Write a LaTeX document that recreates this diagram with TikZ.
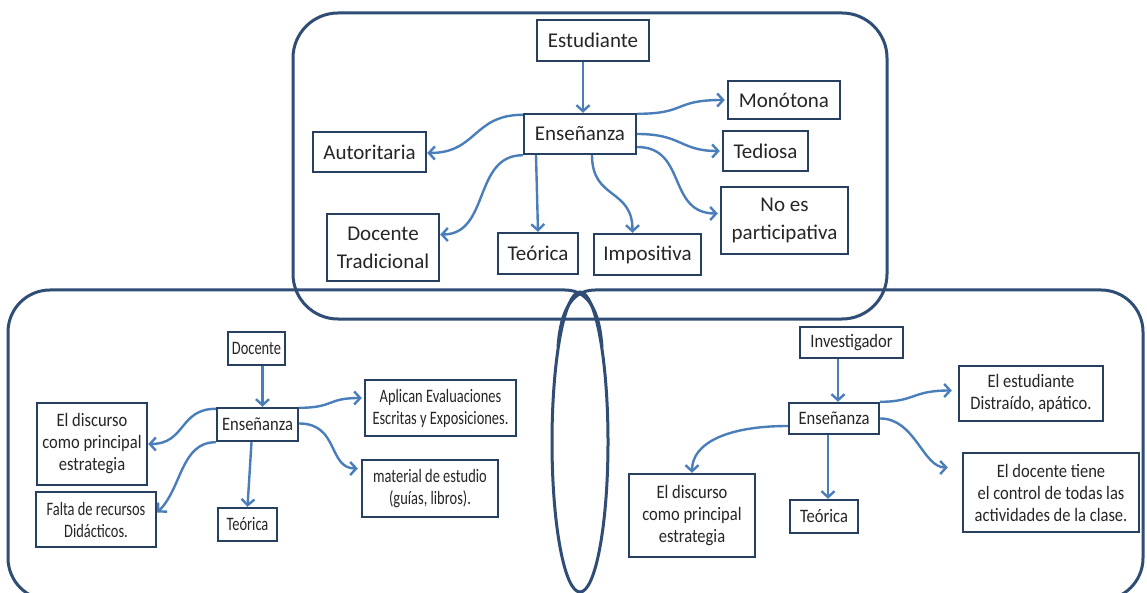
\documentclass[tikz,border=0pt]{standalone}
\usepackage{fontspec}
\setmainfont{Carlito}
\newfontfamily\nfont[FakeStretch=0.76]{Carlito}
\newfontfamily\wfont[FakeStretch=0.87]{Carlito}
\usetikzlibrary{arrows.meta}
\definecolor{contcol}{RGB}{47,77,117}
\definecolor{boxcol}{RGB}{40,64,96}
\definecolor{arrcol}{RGB}{74,126,187}
\tikzset{
  tbox/.style={draw=boxcol, line width=2.4pt, align=center, inner sep=0pt, text=black!85, font=\fontsize{21}{28}\selectfont},
  bbox/.style={draw=boxcol, line width=2.4pt, align=center, inner sep=0pt, text=black!85, font=\wfont\fontsize{19}{22}\selectfont},
  nbox/.style={bbox, font=\nfont\fontsize{19}{22}\selectfont},
  arr/.style={draw=arrcol, line width=2.4pt, -{Straight Barb[length=6pt,width=13pt]}},
  cont/.style={draw=contcol, line width=3pt},
}
\begin{document}
\begin{tikzpicture}[x=1pt,y=-1pt]
\useasboundingbox (0,0) rectangle (1147,593);
\clip (0,0) rectangle (1147,593);
\fill[white] (0,0) rectangle (1147,593);
% containers
\draw[cont, rounded corners=45pt] (293,13) rectangle (887,319);
\draw[cont] (602,347) .. controls (600,318) and (592,290) .. (565,290);
\draw[cont, rounded corners=42pt] (565,290) -- (8,290) -- (8,600) -- (620,600);
\draw[cont] (558,347) .. controls (560,318) and (568,290) .. (595,290);
\draw[cont, rounded corners=42pt] (595,290) -- (1143,290) -- (1143,600) -- (540,600);
\draw[cont] (580,442) ellipse [x radius=28pt, y radius=150pt];
% top nodes
\node[tbox, minimum width=112, minimum height=41] (est) at (593,40.5) {Estudiante};
\node[tbox, minimum width=112, minimum height=40] (ens1) at (580,134) {Enseñanza};
\node[tbox, minimum width=112, minimum height=38] (mon) at (784,100) {Monótona};
\node[tbox, minimum width=113, minimum height=40] (aut) at (369.5,152) {Autoritaria};
\node[tbox, minimum width=85, minimum height=40] (ted) at (765.5,151) {Tediosa};
\node[tbox, minimum width=127, minimum height=67] (noes) at (784.5,220.5) {No es\\participativa};
\node[tbox, minimum width=112, minimum height=67] (doct) at (383,247.5) {Docente\\Tradicional};
\node[tbox, minimum width=80, minimum height=41] (teo1) at (538,253.5) {Teórica};
\node[tbox, minimum width=107, minimum height=41] (imp) at (647.5,254.5) {Impositiva};
% bottom left nodes
\node[nbox, minimum width=57, minimum height=33] (doc) at (256.5,348.5) {Docente};
\node[bbox, minimum width=81, minimum height=33] (ens2) at (257.5,424.5) {Enseñanza};
\node[nbox, minimum width=151, minimum height=56] (apl) at (440.5,408) {Aplican Evaluaciones\\Escritas y Exposiciones.};
\node[nbox, minimum width=136, minimum height=57] (mat) at (430,488.5) {material de estudio\\(guías, libros).};
\node[bbox, minimum width=110, minimum height=82] (disc2) at (92,444) {El discurso\\como principal\\estrategia};
\node[nbox, minimum width=120, minimum height=55] (falta) at (96,519.5) {Falta de recursos\\Didácticos.};
\node[nbox, minimum width=59, minimum height=33] (teo2) at (247.5,524.5) {Teórica};
% bottom right nodes
\node[bbox, minimum width=103, minimum height=31] (inv) at (851.5,342.5) {Investigador};
\node[bbox, minimum width=90, minimum height=31] (ens3) at (834,418.5) {Enseñanza};
\node[bbox, minimum width=144, minimum height=55] (estd) at (1031,393.5) {El estudiante\\Distraído, apático.};
\node[bbox, minimum width=176, minimum height=79] (doctiene) at (1051,492.5) {El docente tiene\\el control de todas las\\actividades de la clase.};
\node[bbox, minimum width=126, minimum height=83] (disc3) at (692,515.5) {El discurso\\como principal\\estrategia};
\node[bbox, minimum width=68, minimum height=33] (teo3) at (824,516.5) {Teórica};
% top arrows
\draw[arr] ([xshift=3pt]ens1.north |- est.south) -- ([xshift=3pt]ens1.north);
\draw[arr] ([yshift=-1pt]ens1.north east) .. controls +(50,0) and +(-52,0) .. ([xshift=-2pt]mon.west);
\draw[arr] (ens1.east) .. controls +(45,0) and +(-40,0) .. ([xshift=-2pt]ted.west);
\draw[arr] ([yshift=-13pt]ens1.east) .. controls +(50,0) and +(-51,0) .. ([xshift=-2pt,yshift=7pt]noes.west);
\draw[arr] ([xshift=12pt]ens1.south) .. controls +(0,45) and +(0,-45) .. ([xshift=-15pt]imp.north);
\draw[arr] ([xshift=-44pt]ens1.south) -- (teo1.north);
\draw[arr] (ens1.south west) .. controls +(-50,0) and +(50,0) .. ([yshift=13pt]doct.east);
\draw[arr] ([yshift=-2pt]ens1.north west) .. controls +(-50,0) and +(50,0) .. ([yshift=-1pt]aut.east);
% bottom left arrows
\draw[arr] ([xshift=5pt]ens2.north |- doc.south) -- ([xshift=5pt]ens2.north);
\draw[arr] ([xshift=-6pt]ens2.south) -- (teo2.north);
\draw[arr] ([yshift=-2pt]ens2.north west) .. controls +(-37,0) and +(38,0) .. (disc2.east);
\draw[arr] (ens2.south west) .. controls +(-35,0) and +(25,-25) .. ([yshift=7pt]falta.east);
\draw[arr] ([yshift=-1pt]ens2.north east) .. controls +(35,0) and +(-35,0) .. ([xshift=-2pt,yshift=10pt]apl.west);
\draw[arr] ([yshift=1pt]ens2.east) .. controls +(40,0) and +(-30,0) .. ([xshift=-3pt,yshift=20pt]mat.west);
% bottom right arrows
\draw[arr] ([xshift=4pt]ens3.north |- inv.south) -- ([xshift=4pt]ens3.north);
\draw[arr] ([xshift=-6pt]ens3.south) -- ([xshift=-6pt]ens3.south |- teo3.north);
\draw[arr] ([yshift=-7.5pt]ens3.west) .. controls +(-60,0) and +(0,-30) .. (disc3.north);
\draw[arr] (ens3.north east) .. controls +(35,0) and +(-40,0) .. ([xshift=-6pt,yshift=3pt]estd.west);
\draw[arr] (ens3.east) .. controls +(35,0) and +(-25,0) .. ([xshift=-14pt,yshift=25pt]doctiene.west);
\end{tikzpicture}
\end{document}
